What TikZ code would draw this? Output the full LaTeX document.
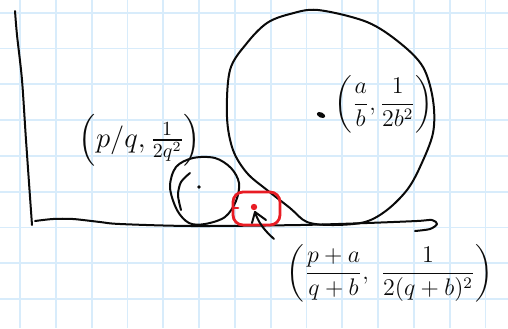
\documentclass[tikz,border=0pt]{standalone}
\usepackage{amsmath,amssymb}
\usepackage{xcolor}
\usepackage{tikz}
\usetikzlibrary{arrows.meta,positioning,calc}
\definecolor{gridBlue}{RGB}{216,236,251}
\definecolor{penRed}{RGB}{232,28,36}
\definecolor{penInk}{RGB}{10,10,10}

\begin{document}
\begin{tikzpicture}[
  x=0.5pt, y=-0.5pt,
  paper/.style={draw=gridBlue, line width=0.9pt},
  pen/.style={draw=penInk, line width=1pt, line cap=round, line join=round},
  redpen/.style={draw=penRed, line width=1.4pt, line cap=round, line join=round},
  lbl/.style={inner sep=0pt, text=penInk}
]
\useasboundingbox (0,0) rectangle (508,328);
% squared paper
\foreach \i in {0,...,13} \draw[paper] (20+35.8*\i,0) -- (20+35.8*\i,328);
\foreach \j in {0,...,8} \draw[paper] (0,12.7+35.8*\j) -- (508,12.7+35.8*\j);

% axes
\draw[pen] plot[smooth] coordinates {(15,11) (17,35) (22,80) (26,140) (32,225)};
\draw[pen] plot[smooth] coordinates {(35,221) (53,219) (73,219) (100,222) (120,224) (192,226)
  (300,225) (367,223) (417,221) (432,220) (437,224) (430,229) (415,231)};

% big circle
\draw[pen] plot[smooth cycle, tension=0.55] coordinates {(318,10) (367,22) (400,43) (423,67)
  (433,100) (433,133) (420,167) (407,190) (387,210) (365,222) (333,225) (307,222)
  (290,208) (267,190) (247,173) (233,150) (227,117) (230,70) (247,43) (267,23)
  (290,14)};
\fill[penInk, rotate around={-25:(321,115)}] (321,115) ellipse (4.5 and 2.6);

% small circle
\draw[pen] plot[smooth cycle, tension=0.55] coordinates {(170,187) (176,167) (193,158)
  (215,158) (231,168) (239,183) (236,201) (225,217) (205,224) (189,223) (177,210)};
\draw[pen] plot[smooth] coordinates {(190,173) (181,182) (178,195) (181,210)};
\fill[penInk] (199,187) circle (1.8);

% mediant marker
\draw[redpen, rounded corners=5pt] (233,192) rectangle (280,225);
\draw[redpen] (233,208) -- (238,208);
\fill[penRed] (254,207) circle (3.2);

% pointer
\coordinate (tip) at (255,212);
\coordinate (tail) at (274,239);
\draw[pen] (tail) .. controls (264,230) and (258,222) .. (tip);
\draw[pen] (252,223) -- (tip) -- (266,220);

% labels
\node[lbl, font=\Large] (small) at (140,140) {$\left(p/q,\frac{1}{2q^{2}}\right)$};
\node[lbl, font=\large] (big) at (384,104) {$\left(\dfrac{a}{b},\dfrac{1}{2b^{2}}\right)$};
\node[lbl, font=\large] (mediant) at (390,273) {$\left(\dfrac{p+a}{q+b},\ \dfrac{1}{2(q+b)^{2}}\right)$};
\end{tikzpicture}
\end{document}
